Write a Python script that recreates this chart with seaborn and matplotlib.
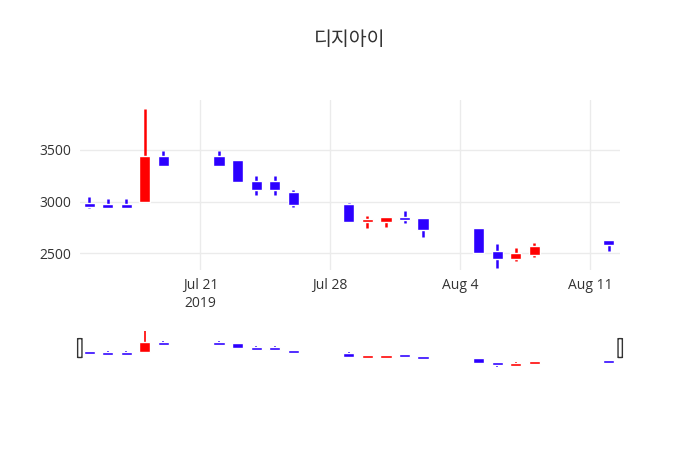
import pandas as pd
import numpy as np
import matplotlib
matplotlib.use("Agg")
import matplotlib.pyplot as plt
import matplotlib.dates as mdates
from matplotlib.patches import FancyBboxPatch
import seaborn as sns

sns.set_style("white")
plt.rcParams["font.family"] = ["Open Sans", "Noto Sans CJK KR"]

dates = ["2019-07-15", "2019-07-16", "2019-07-17", "2019-07-18", "2019-07-19",
         "2019-07-22", "2019-07-23", "2019-07-24", "2019-07-25", "2019-07-26",
         "2019-07-29", "2019-07-30", "2019-07-31", "2019-08-01", "2019-08-02",
         "2019-08-05", "2019-08-06", "2019-08-07", "2019-08-08", "2019-08-12"]
opens = [2990, 2975, 2975, 3000, 3440, 3440, 3400, 3200, 3200, 3095,
         2975, 2810, 2805, 2845, 2840, 2740, 2520, 2445, 2480, 2625]
highs = [3045, 3025, 3025, 3900, 3485, 3485, 3400, 3245, 3245, 3110,
         2990, 2860, 2850, 2905, 2840, 2740, 2585, 2545, 2595, 2625]
lows = [2935, 2935, 2935, 3000, 3340, 3340, 3185, 3060, 3060, 2945,
        2805, 2740, 2757, 2790, 2660, 2500, 2355, 2425, 2460, 2525]
closes = [2950, 2940, 2940, 3440, 3340, 3340, 3185, 3115, 3115, 2965,
          2805, 2825, 2848, 2825, 2725, 2505, 2445, 2505, 2570, 2580]

df = pd.DataFrame({"date": pd.to_datetime(dates), "open": opens, "high": highs,
                   "low": lows, "close": closes})
df["color"] = np.where(df["close"] >= df["open"], "#ff0000", "#2c00ff")

xmin = pd.Timestamp("2019-07-14 12:00")
xmax = pd.Timestamp("2019-08-12 15:00")


def draw_candles(ax, lw, bw, min_h):
    x = mdates.date2num(df["date"])
    ax.vlines(x, df["low"], df["high"], colors=df["color"], linewidth=lw, zorder=2)
    lo = np.minimum(df["open"], df["close"])
    hi = np.maximum(df["open"], df["close"])
    mid = (lo + hi) / 2
    height = np.maximum(hi - lo, min_h)
    ax.bar(x, height, bottom=mid - height / 2, width=bw, color=df["color"], zorder=3)
    ax.set_xlim(mdates.date2num(xmin), mdates.date2num(xmax))


fig = plt.figure(figsize=(7, 4.5), dpi=100)
ax = fig.add_axes([0.114, 0.4, 0.772, 0.378])
draw_candles(ax, 1.8, 0.6, 28)
ax.set_ylim(2336, 3985)
ax.set_yticks([2500, 3000, 3500])
ax.yaxis.grid(True, color="#ebebeb", linewidth=1)
ax.xaxis.grid(True, color="#ebebeb", linewidth=1)
ticks = pd.to_datetime(["2019-07-21", "2019-07-28", "2019-08-04", "2019-08-11"])
ax.set_xticks(mdates.date2num(ticks))
ax.set_xticklabels(["Jul 21\n2019", "Jul 28", "Aug 4", "Aug 11"])
ax.tick_params(length=0, labelsize=10, colors="#333333", pad=6)
for s in ax.spines.values():
    s.set_visible(False)
fig.suptitle("디지아이", x=0.5, y=0.935, fontsize=14, color="#333333",
             fontfamily="Noto Sans CJK KR")

# range slider
sl = fig.add_axes([0.114, 0.182, 0.772, 0.084])
draw_candles(sl, 1.2, 0.6, 130)
sl.set_ylim(2300, 3950)
sl.set_xticks([])
sl.set_yticks([])
for s in sl.spines.values():
    s.set_visible(False)
for hx in [0.0, 1.0]:
    sl.add_patch(FancyBboxPatch((hx - 0.004, 0.28), 0.008, 0.5,
                                boxstyle="round,pad=0,rounding_size=0.003",
                                transform=sl.transAxes, facecolor="white",
                                edgecolor="#333333", linewidth=1, clip_on=False,
                                zorder=5))

fig.savefig("out.png", dpi=100)
